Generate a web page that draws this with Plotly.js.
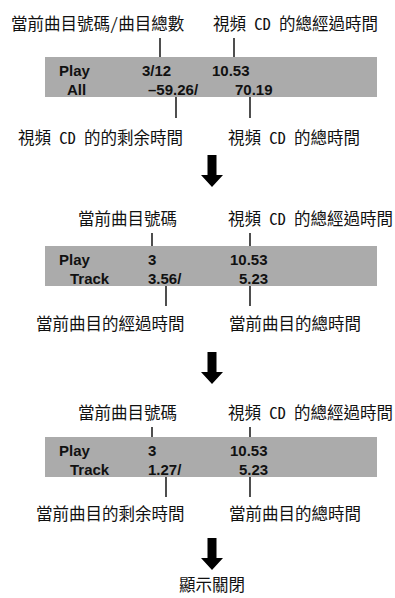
<!DOCTYPE html>
<html>
<head>
<meta charset="utf-8">
<script src="https://cdn.plot.ly/plotly-3.0.1.min.js"></script>
<style>html,body{margin:0;padding:0;background:#fff;}#chart{width:395px;height:598px;}</style>
</head>
<body>
<div id="chart"></div>
<script>
// ---- content ----
const topLabels = [
  ["當前曲目號碼/曲目總數", "視頻 CD 的總經過時間"],
  ["當前曲目號碼", "視頻 CD 的總經過時間"],
  ["當前曲目號碼", "視頻 CD 的總經過時間"]
];
const bottomLabels = [
  ["視頻 CD 的的剩余時間", "視頻 CD 的總時間"],
  ["當前曲目的經過時間", "當前曲目的總時間"],
  ["當前曲目的剩余時間", "當前曲目的總時間"]
];
const row1Name = ["Play", "Play", "Play"];
const row1Track = ["3/12", "3", "3"];
const row1Time = ["10.53", "10.53", "10.53"];
const row2Name = ["All", "Track", "Track"];
const row2Elapsed = ["–59.26/", "3.56/", "1.27/"];
const row2Total = ["70.19", "5.23", "5.23"];
const finalLabel = "顯示關閉";

// ---- layout geometry ----
const boxTop = [57, 246, 437];
const boxBottom = [97, 286, 477];
const boxX = [45, 377];
const topLabelY = [23, 218, 412];
const topLabelX = [[10, 212], [77, 227], [77, 227]];
const topLineX = [[160, 234], [152, 250], [152, 250]];
const bottomLineX = [[176, 250], [166, 250], [166, 250]];
const bottomLineLen = [21, 20, 20];
const bottomLabelY = [137, 323, 513];
const bottomLabelX = [[17, 227], [35, 228], [35, 228]];
const colX = {name1: 58, name2: [66, 69, 69], track: [141, 147, 147], time1Right: [251, 269, 269], elapsed: [147, 147, 147], totalRight: [274, 269, 269]};
const arrowTops = [155, 352, 538];
const arrowX = 212;

const cjkFont = {family: "Noto Sans Mono CJK TC, Noto Sans CJK TC, sans-serif", size: 16.5, color: "#111"};
const boxFont = {family: "Liberation Sans, Arial, sans-serif", size: 15, color: "#111"};

const shapes = [];
const annotations = [];
function ann(x, y, text, font, xanchor, yanchor) {
  annotations.push({x: x, y: y, xref: "x", yref: "y", text: text, showarrow: false,
    xanchor: xanchor || "left", yanchor: yanchor || "middle", font: font, borderpad: 0});
}
function line(x0, y0, x1, y1) {
  shapes.push({type: "line", xref: "x", yref: "y", x0: x0, y0: y0, x1: x1, y1: y1,
    line: {color: "#222", width: 1.6}});
}
function arrow(top) {
  const cx = arrowX;
  const p = `M ${cx-4.5} ${top} L ${cx+4.5} ${top} L ${cx+4.5} ${top+20} L ${cx+11} ${top+20} L ${cx} ${top+32} L ${cx-11} ${top+20} L ${cx-4.5} ${top+20} Z`;
  shapes.push({type: "path", xref: "x", yref: "y", path: p, fillcolor: "#000", line: {width: 0}});
}
const b = s => "<b>" + s + "</b>";

for (let i = 0; i < 3; i++) {
  const t = boxTop[i], bt = boxBottom[i];
  shapes.push({type: "rect", xref: "x", yref: "y", x0: boxX[0], x1: boxX[1], y0: t, y1: bt,
    fillcolor: "#ababab", line: {width: 0}, layer: "below"});
  // leader lines
  line(topLineX[i][0], topLabelY[i] + 15, topLineX[i][0], t);
  line(topLineX[i][1], topLabelY[i] + 15, topLineX[i][1], t);
  line(bottomLineX[i][0], bt, bottomLineX[i][0], bt + bottomLineLen[i]);
  line(bottomLineX[i][1], bt, bottomLineX[i][1], bt + bottomLineLen[i]);
  // labels
  ann(topLabelX[i][0], topLabelY[i], topLabels[i][0], cjkFont);
  ann(topLabelX[i][1], topLabelY[i], topLabels[i][1], cjkFont);
  ann(bottomLabelX[i][0], bottomLabelY[i], bottomLabels[i][0], cjkFont);
  ann(bottomLabelX[i][1], bottomLabelY[i], bottomLabels[i][1], cjkFont);
  // box text
  const r1 = t + 13, r2 = t + 32;
  ann(colX.name1, r1, b(row1Name[i]), boxFont);
  ann(colX.track[i], r1, b(row1Track[i]), boxFont);
  ann(colX.time1Right[i], r1, b(row1Time[i]), boxFont, "right");
  ann(colX.name2[i], r2, b(row2Name[i]), boxFont);
  ann(colX.elapsed[i], r2, b(row2Elapsed[i]), boxFont);
  ann(colX.totalRight[i], r2, b(row2Total[i]), boxFont, "right");
}
arrowTops.forEach(arrow);
ann(arrowX, 597, finalLabel, cjkFont, "center", "bottom");

const layout = {
  width: 395, height: 598,
  margin: {l: 0, r: 0, t: 0, b: 0},
  paper_bgcolor: "#fff", plot_bgcolor: "#fff",
  xaxis: {range: [0, 395], visible: false, fixedrange: true},
  yaxis: {range: [598, 0], visible: false, fixedrange: true},
  showlegend: false,
  shapes: shapes,
  annotations: annotations
};
Plotly.newPlot("chart", [{x: [], y: [], type: "scatter", mode: "markers"}], layout, {displayModeBar: false, staticPlot: true});
</script>
</body>
</html>
